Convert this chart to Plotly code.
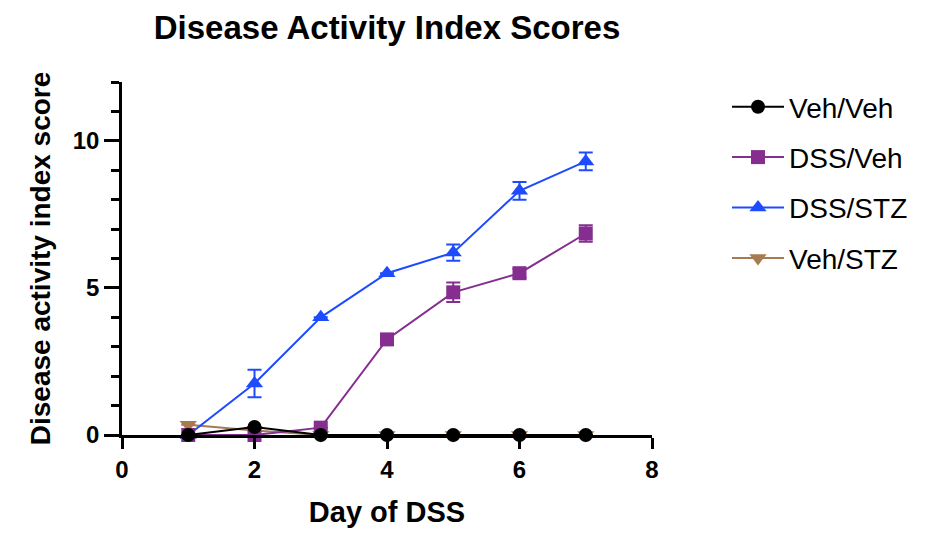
import plotly.graph_objects as go

days = [1, 2, 3, 4, 5, 6, 7]

veh_veh = [0, 0.27, 0, 0, 0, 0, 0]
veh_veh_err = [0, 0, 0, 0, 0, 0, 0]

dss_veh = [0, 0, 0.25, 3.25, 4.85, 5.5, 6.85]
dss_veh_err = [0, 0, 0, 0.08, 0.33, 0.15, 0.28]

dss_stz = [0, 1.75, 4.0, 5.5, 6.2, 8.3, 9.3]
dss_stz_err = [0, 0.47, 0, 0, 0.28, 0.3, 0.3]

veh_stz = [0.35, 0.15, 0, 0, 0, 0, 0]
veh_stz_err = [0, 0, 0, 0, 0, 0, 0]

x_ticks = [0, 2, 4, 6, 8]
y_ticks = [0, 5, 10]

FONT = "Liberation Sans, Arial, Helvetica, sans-serif"

# Drawn back-to-front so the black series sits on top; legendrank sets the listing order.
series = [
    ("Veh/STZ", veh_stz, veh_stz_err, "#A67B4F", "triangle-down", 15, 4),
    ("DSS/STZ", dss_stz, dss_stz_err, "#1F4BFF", "triangle-up", 15, 3),
    ("DSS/Veh", dss_veh, dss_veh_err, "#852E90", "square", 14, 2),
    ("Veh/Veh", veh_veh, veh_veh_err, "#000000", "circle", 14, 1),
]

fig = go.Figure()
for name, vals, err, color, symbol, size, rank in series:
    fig.add_trace(go.Scatter(
        x=days, y=vals, name=name, mode="lines+markers",
        legendgroup=name, legendrank=rank,
        line=dict(color=color, width=2),
        marker=dict(symbol=symbol, size=size, color=color),
        error_y=dict(type="data", array=err, visible=True,
                     color=color, thickness=2, width=7),
        cliponaxis=False,
    ))

fig.update_layout(
    width=935, height=533,
    margin=dict(l=122, r=283, t=82, b=98, autoexpand=False),
    paper_bgcolor="white", plot_bgcolor="white",
    title=dict(text="<b>Disease Activity Index Scores</b>",
               x=387 / 935, xanchor="center", y=1 - 27 / 533, yanchor="middle",
               font=dict(family=FONT, size=33, color="black")),
    font=dict(family=FONT, color="black"),
    legend=dict(xref="container", yref="container",
                x=727 / 935, xanchor="left", y=1 - 82 / 533, yanchor="top",
                traceorder="grouped", tracegroupgap=11,
                font=dict(family=FONT, size=28, color="black"),
                bgcolor="rgba(0,0,0,0)", itemwidth=52),
    showlegend=True,
)

fig.update_xaxes(
    range=[0, 8], tickvals=x_ticks, ticktext=[f"<b>{v}</b>" for v in x_ticks],
    showline=True, linecolor="black", linewidth=2.5,
    ticks="outside", ticklen=11, tickwidth=2.5, tickcolor="black",
    tickfont=dict(family=FONT, size=24, color="black"),
    showgrid=False, zeroline=False, automargin=False,
    title=dict(text="<b>Day of DSS</b>", font=dict(family=FONT, size=29, color="black"),
               standoff=21),
)
fig.update_yaxes(
    range=[0, 12], tickvals=y_ticks, ticktext=[f"<b>{v}</b>" for v in y_ticks],
    showline=True, linecolor="black", linewidth=2.5,
    ticks="outside", ticklen=15, tickwidth=2.5, tickcolor="black",
    minor=dict(dtick=1, tick0=0, ticks="outside", ticklen=8, tickwidth=2.5,
               tickcolor="black", showgrid=False),
    tickfont=dict(family=FONT, size=24, color="black"),
    showgrid=False, zeroline=False, automargin=False,
    title=dict(text="<b>Disease activity index score</b>",
               font=dict(family=FONT, size=28, color="black"), standoff=14),
)

fig.write_html("out.html")
